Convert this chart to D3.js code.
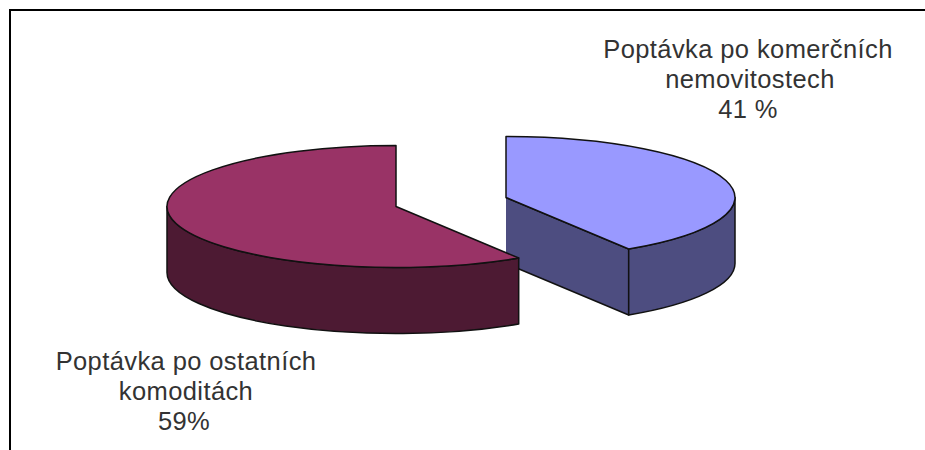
<!DOCTYPE html>
<html>
<head>
<meta charset="utf-8">
<script src="https://cdn.jsdelivr.net/npm/d3@7/dist/d3.min.js"></script>
<style>
html, body { margin: 0; padding: 0; background: #fff; }
svg { display: block; }
text { font-family: "Liberation Sans", Arial, sans-serif; font-size: 25.5px; fill: #333; letter-spacing: 0.4px; }
</style>
</head>
<body>
<svg id="chart" width="925" height="450"></svg>
<script>
// Share of demand by source, in percent
const categories = ["Poptávka po komerčních nemovitostech", "Poptávka po ostatních komoditách"];
const shares = [41, 59];
const topColors = ["#9999ff", "#993366"];
const sideColors = ["#4d4d80", "#4d1a33"];
const labelLines = [
  ["Poptávka po komerčních", "nemovitostech", "41 %"],
  ["Poptávka po ostatních", "komoditách", "59%"]
];

const svg = d3.select("#chart");
const W = 925, H = 450;

// Frame: open at the right and bottom, running off the page
svg.append("path")
  .attr("d", d3.line()([[10, H], [10, 10], [W, 10]]))
  .attr("fill", "none").attr("stroke", "#000").attr("stroke-width", 2);

// Tilted pie geometry
const rx = 229, ry = 61, depth = 66;
const centres = [[506, 197.5], [396, 206.5]];

const slices = d3.pie().sort(null).value(d => d)(shares);

// Angle is measured clockwise from twelve o'clock, as in d3.pie
const rimPoint = (c, a, dy = 0) => [c[0] + rx * Math.sin(a), c[1] - ry * Math.cos(a) + dy];
const arcTo = (p, sweep, large) => `A${rx},${ry} 0 ${large} ${sweep} ${p[0]},${p[1]}`;

function wallPath(c, a0, a1) {
  const p0 = rimPoint(c, a0), p1 = rimPoint(c, a1);
  const q0 = rimPoint(c, a0, depth), q1 = rimPoint(c, a1, depth);
  const large = Math.abs(a1 - a0) > Math.PI ? 1 : 0;
  return `M${p0}${arcTo(p1, 1, large)}L${q1}${arcTo(q0, 0, large)}Z`;
}

function topPath(c, a0, a1) {
  const p0 = rimPoint(c, a0), p1 = rimPoint(c, a1);
  const large = Math.abs(a1 - a0) > Math.PI ? 1 : 0;
  return `M${c}L${p0}${arcTo(p1, 1, large)}Z`;
}

function styled(sel, fill) {
  return sel.attr("fill", fill).attr("stroke", "#111")
    .attr("stroke-width", 1.5).attr("stroke-linejoin", "round");
}

const chart = svg.append("g");

// Blue slice: cut face, outer wall, top
{
  const s = slices[0], c = centres[0];
  const end = rimPoint(c, s.endAngle);
  styled(chart.append("path").attr("d",
    d3.line()([c, end, [end[0], end[1] + depth], [c[0], c[1] + depth]])), sideColors[0]);
  styled(chart.append("path").attr("d", wallPath(c, Math.PI / 2, s.endAngle)), sideColors[0]);
  styled(chart.append("path").attr("d", topPath(c, s.startAngle, s.endAngle)), topColors[0]);
}

// Red slice: outer wall, top; it overlaps the blue cut face
{
  const s = slices[1], c = centres[1];
  styled(chart.append("path").attr("d", wallPath(c, s.startAngle, 3 * Math.PI / 2)), sideColors[1]);
  styled(chart.append("path").attr("d", topPath(c, s.startAngle, s.endAngle)), topColors[1]);
}

// Labels, one centre per line
const labelX = [[748, 750, 748], [186, 186, 184]];
const labelY = [58, 370];
const lineGap = 30;
labelLines.forEach((lines, i) => {
  const t = svg.append("text").attr("text-anchor", "middle");
  lines.forEach((line, j) => {
    t.append("tspan").attr("x", labelX[i][j]).attr("y", labelY[i] + j * lineGap).text(line);
  });
});
</script>
</body>
</html>
